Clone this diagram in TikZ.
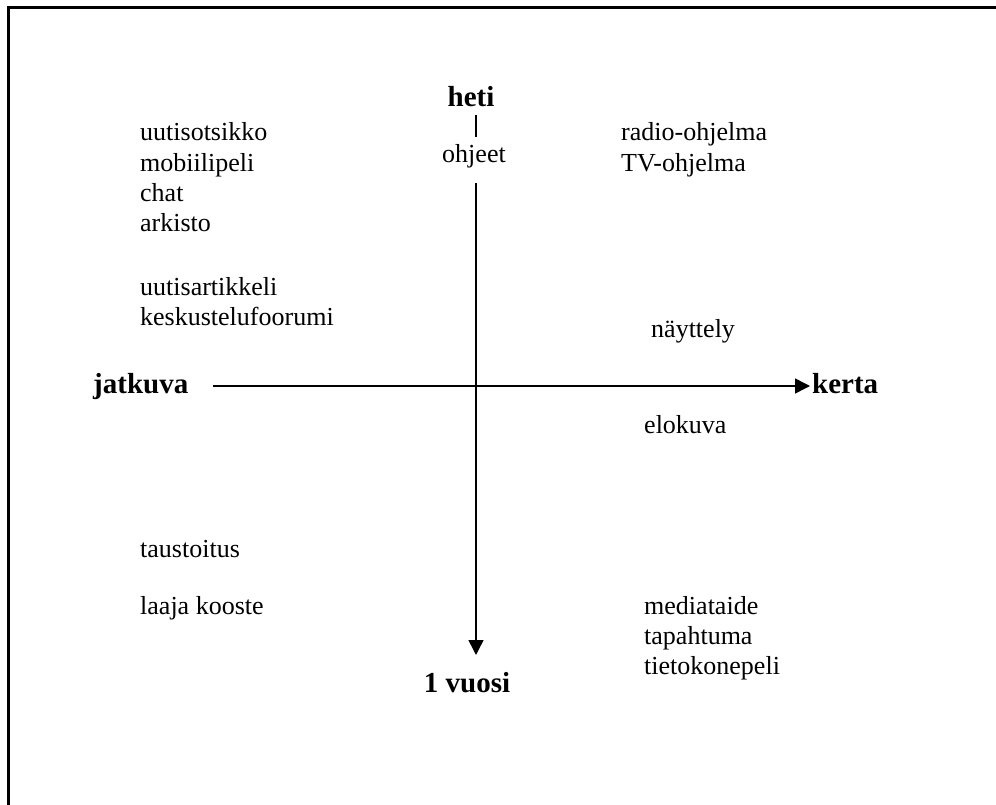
\documentclass[tikz,border=0pt]{standalone}
\usepackage{fontspec}
\setmainfont{Liberation Serif}
\usetikzlibrary{arrows.meta}
\begin{document}
\begin{tikzpicture}[x=1pt,y=-1pt,
  lbl/.style={anchor=base west,inner sep=0pt,font=\fontsize{26}{30}\selectfont},
  lblc/.style={anchor=base,inner sep=0pt,font=\fontsize{26}{30}\selectfont},
  axlbl/.style={anchor=base,inner sep=0pt,font=\fontsize{29}{33}\selectfont\bfseries},
  axis/.style={line width=1.5pt,-{Triangle[length=15pt,width=15pt]}}]
\useasboundingbox (0,0) rectangle (996,805);
\clip (0,0) rectangle (996,805);
\draw[line width=3pt] (8.5,7.5) rectangle (1200,1000);
% axis labels
\node[axlbl] (heti) at (471,107) {heti};
\node[lblc] (ohjeet) at (474,163) {ohjeet};
\node[axlbl] (vuosi) at (467,692) {1 vuosi};
\node[axlbl,anchor=base west] (jatkuva) at (93,393) {jatkuva};
\node[axlbl,anchor=base west] (kerta) at (812,393) {kerta};
% axes
\coordinate (tickA) at (476,115);
\coordinate (tickB) at (476,137);
\draw[line width=1.5pt] (tickA) -- (tickB);
\coordinate (vtop) at (476,183);
\coordinate (vbot) at (476,655);
\coordinate (hl) at (213,386);
\coordinate (hr) at (810,386);
\draw[axis] (hl) -- (hr);
\draw[axis] (vtop) -- (vbot);
% left items
\node[lbl] (a1) at (140,141) {uutisotsikko};
\node[lbl] (a2) at (140,172) {mobiilipeli};
\node[lbl] (a3) at (140,202) {chat};
\node[lbl] (a4) at (140,232) {arkisto};
\node[lbl] (a5) at (140,295) {uutisartikkeli};
\node[lbl] (a6) at (140,325) {keskustelufoorumi};
\node[lbl] (a7) at (140,557) {taustoitus};
\node[lbl] (a8) at (140,614) {laaja kooste};
% right items
\node[lbl] (b1) at (621,141) {radio-ohjelma};
\node[lbl] (b2) at (621,172) {TV-ohjelma};
\node[lbl] (b3) at (651,337) {näyttely};
\node[lbl] (b4) at (644,433) {elokuva};
\node[lbl] (b5) at (644,614) {mediataide};
\node[lbl] (b6) at (644,644) {tapahtuma};
\node[lbl] (b7) at (644,674) {tietokonepeli};
\end{tikzpicture}
\end{document}
